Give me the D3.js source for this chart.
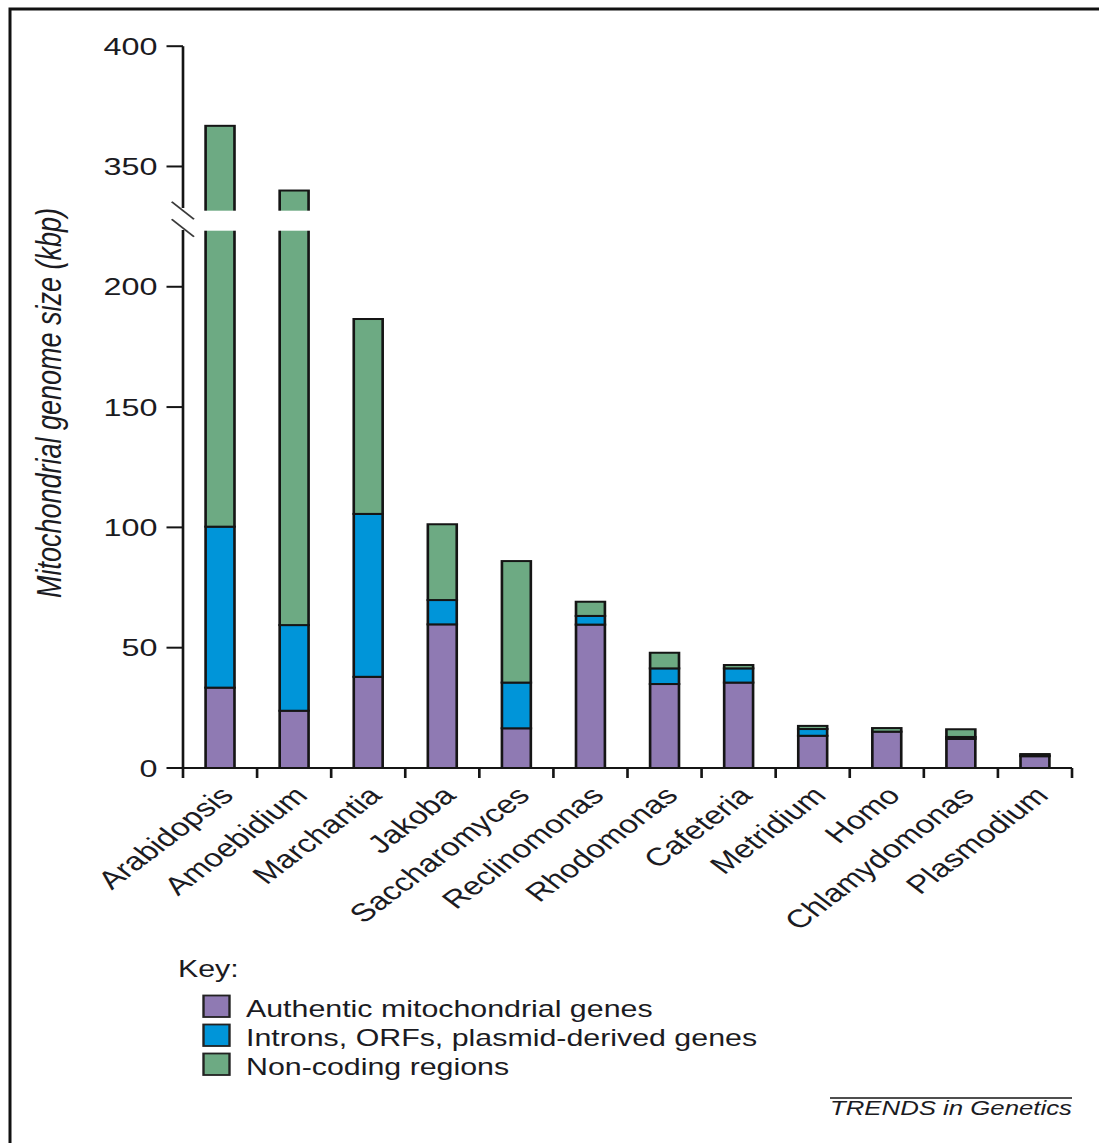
<!DOCTYPE html>
<html>
<head>
<meta charset="utf-8">
<script src="https://cdn.jsdelivr.net/npm/d3@7"></script>
<style>
  html, body { margin: 0; padding: 0; background: #fff; }
  svg { display: block; }
  text { font-family: "Liberation Sans", Arial, Helvetica, sans-serif; fill: #1b1b22; }
</style>
</head>
<body>
<script>
// Mitochondrial genome size (kbp) split into three sequence classes
const categories = ["Arabidopsis", "Amoebidium", "Marchantia", "Jakoba", "Saccharomyces",
  "Reclinomonas", "Rhodomonas", "Cafeteria", "Metridium", "Homo", "Chlamydomonas", "Plasmodium"];
const authentic = [33.4, 23.8, 37.9, 59.7, 16.5, 59.6, 34.9, 35.5, 13.4, 15.1, 12.1, 4.9];
const introns   = [66.9, 35.6, 67.7, 10.1, 19.0, 3.6, 6.5, 5.9, 2.8, 0, 0.8, 0.3];
const nonCoding = [266.6, 280.6, 81.0, 31.5, 50.5, 5.9, 6.5, 1.4, 1.3, 1.5, 3.2, 0.6];
const yTicks = [0, 50, 100, 150, 200, 350, 400];
const seriesKeys = ["authentic", "introns", "nonCoding"];
const seriesLabels = ["Authentic mitochondrial genes", "Introns, ORFs, plasmid-derived genes", "Non-coding regions"];
const seriesColors = ["#8f7ab3", "#0095d9", "#6daa83"];

const W = 1099, H = 1143;
const SX = 1.32;              // the figure is drawn horizontally widened
const ix = v => v / SX;       // page x -> inner x

const svg = d3.select("body").append("svg").attr("width", W).attr("height", H);

// outer frame
svg.append("path").attr("d", "M10,1143V9H1099")
  .attr("fill", "none").attr("stroke", "#111").attr("stroke-width", 3);

const g = svg.append("g").attr("transform", `scale(${SX},1)`);

// broken value axis: 227.5..327.5 collapses to one point
const y = d3.scaleLinear()
  .domain([0, 227.5, 327.5, 400])
  .range([768, 220.6, 220.6, 46.2]);

const x = d3.scaleBand().domain(categories).range([ix(183), ix(1072)]).padding(0);
const barW = x.bandwidth() * 0.39;

const table = categories.map((c, i) => ({
  name: c, authentic: authentic[i], introns: introns[i], nonCoding: nonCoding[i]
}));
const stacked = d3.stack().keys(seriesKeys)(table);

// bars
g.append("g").selectAll("g").data(stacked).join("g")
  .attr("fill", (d, i) => seriesColors[i])
  .selectAll("rect")
  .data(d => d.filter(s => s[1] - s[0] > 0))
  .join("rect")
  .attr("x", d => x(d.data.name) + (x.bandwidth() - barW) / 2)
  .attr("y", d => y(d[1]))
  .attr("width", barW)
  .attr("height", d => y(d[0]) - y(d[1]))
  .attr("stroke", "#151515")
  .attr("stroke-width", 2);

// gap across the bars at the axis break
g.append("rect")
  .attr("x", ix(188)).attr("y", 210.7)
  .attr("width", ix(1080) - ix(188)).attr("height", 20)
  .attr("fill", "#fff");

// y axis line, interrupted at the break
const axisX = ix(183);
g.append("line").attr("x1", axisX).attr("x2", axisX).attr("y1", y(400)).attr("y2", 208)
  .attr("stroke", "#151515").attr("stroke-width", 2);
g.append("line").attr("x1", axisX).attr("x2", axisX).attr("y1", 230).attr("y2", 768)
  .attr("stroke", "#151515").attr("stroke-width", 2);

// break marks
[[201.7, 219.3], [219.3, 236.7]].forEach(([a, b]) => {
  g.append("line").attr("x1", ix(171.7)).attr("y1", a).attr("x2", ix(194)).attr("y2", b)
    .attr("stroke", "#3a3a3a").attr("stroke-width", 1.6);
});

// y ticks and labels
const yt = g.append("g");
yt.selectAll("line").data(yTicks).join("line")
  .attr("x1", ix(166.5)).attr("x2", axisX)
  .attr("y1", d => y(d)).attr("y2", d => y(d))
  .attr("stroke", "#151515").attr("stroke-width", 2);
yt.selectAll("text").data(yTicks).join("text")
  .attr("x", ix(157.5)).attr("y", d => y(d) + 8.6)
  .attr("text-anchor", "end")
  .attr("font-size", 24.5)
  .text(d => d);

// y axis title
g.append("text")
  .attr("transform", `translate(${ix(61)},403) rotate(-90)`)
  .attr("text-anchor", "middle")
  .attr("font-size", 26.5)
  .attr("font-style", "italic")
  .attr("textLength", 390)
  .attr("lengthAdjust", "spacingAndGlyphs")
  .text("Mitochondrial genome size (kbp)");

// category axis
g.append("line").attr("x1", axisX).attr("x2", ix(1072)).attr("y1", 768).attr("y2", 768)
  .attr("stroke", "#151515").attr("stroke-width", 2);
const bounds = categories.map(c => x(c)).concat([x.range()[1]]);
g.append("g").selectAll("line").data(bounds).join("line")
  .attr("x1", d => d).attr("x2", d => d).attr("y1", 768).attr("y2", 778)
  .attr("stroke", "#151515").attr("stroke-width", 2);

g.append("g").selectAll("text").data(categories).join("text")
  .attr("transform", c => `translate(${x(c) + x.bandwidth() / 2 + ix(15)},797) rotate(-45)`)
  .attr("text-anchor", "end")
  .attr("font-size", 25.3)
  .text(c => c);

// key
g.append("text").attr("x", ix(178)).attr("y", 977).attr("font-size", 23).text("Key:");
const rowY = [1017, 1046, 1075];
const key = g.append("g").selectAll("g").data(seriesLabels).join("g");
key.append("rect")
  .attr("x", ix(203.5)).attr("y", (d, i) => rowY[i] - 21.5)
  .attr("width", ix(229.5) - ix(203.5)).attr("height", 21.5)
  .attr("fill", (d, i) => seriesColors[i])
  .attr("stroke", "#222").attr("stroke-width", 1.8);
key.append("text")
  .attr("x", ix(246)).attr("y", (d, i) => rowY[i])
  .attr("font-size", 23)
  .text(d => d);

// journal credit
g.append("line").attr("x1", ix(830)).attr("x2", ix(1072)).attr("y1", 1098).attr("y2", 1098)
  .attr("stroke", "#151515").attr("stroke-width", 1.6);
g.append("text").attr("x", ix(830)).attr("y", 1115)
  .attr("font-size", 19.5).attr("font-style", "italic")
  .attr("textLength", ix(1072) - ix(830)).attr("lengthAdjust", "spacingAndGlyphs")
  .text("TRENDS in Genetics");
</script>
</body>
</html>
